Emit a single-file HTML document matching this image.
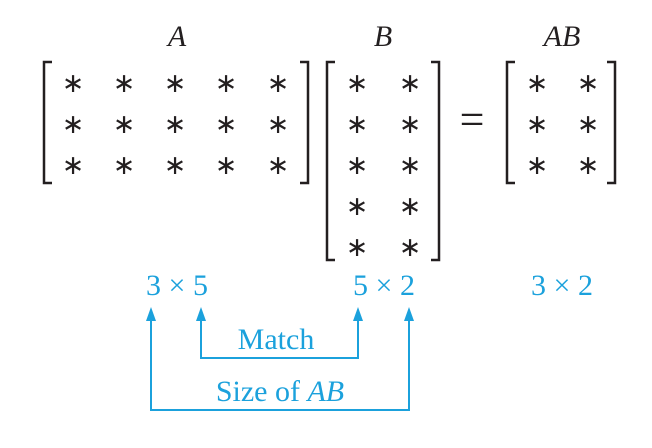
<!DOCTYPE html>
<html><head><meta charset="utf-8"><style>
html,body{margin:0;padding:0;background:#fff;}
svg{display:block;}
.st{font-family:"Liberation Serif",serif;font-size:27px;fill:#231f20;text-anchor:middle;}
.lb{font-family:"Liberation Serif",serif;font-style:italic;font-size:30px;fill:#231f20;text-anchor:middle;}
.bl{font-family:"Liberation Serif",serif;font-size:30px;fill:#1ba1dc;text-anchor:middle;}
</style></head><body>
<svg width="652" height="448" viewBox="0 0 652 448">
<g id="mats"></g>
<text x="472" y="134" font-family="Liberation Serif, serif" font-size="44" fill="#231f20" text-anchor="middle">=</text>
<text class="bl" x="177" y="295">3 × 5</text>
<text class="bl" x="384" y="295">5 × 2</text>
<text class="bl" x="562" y="295">3 × 2</text>
<g stroke="#1ba1dc" stroke-width="2" fill="none">
<polyline points="201,318 201,358 358,358 358,318"/>
</g>
<g stroke="#1ba1dc" stroke-width="2" fill="none">
<polyline points="151,318 151,410 409,410 409,318"/>
</g>
<g fill="#1ba1dc">
<polygon points="201,307 196,321 206,321"/>
<polygon points="358,307 353,321 363,321"/>
<polygon points="151,307 146,321 156,321"/>
<polygon points="409,307 404,321 414,321"/>
</g>
<text class="bl" x="276" y="349">Match</text>
<text class="bl" x="280" y="401">Size of <tspan font-style="italic">AB</tspan></text>
</svg>
<script>
const mats=[
 {name:'A',label:'A',lx:44,rx:308,top:62,bot:183,cols:[73,124,175,226,278],rows:[80,121,162],labelX:177},
 {name:'B',label:'B',lx:327,rx:439,top:62,bot:260,cols:[357,410],rows:[80,121,162,203,244],labelX:383},
 {name:'AB',label:'AB',lx:507,rx:615,top:62,bot:183,cols:[537,588],rows:[80,121,162],labelX:562}
];
const g=document.getElementById('mats');
const NS='http://www.w3.org/2000/svg';
mats.forEach(m=>{
  const grp=document.createElementNS(NS,'g');
  
  
  const t=document.createElementNS(NS,'text');
  t.setAttribute('class','lb');t.setAttribute('x',m.labelX);t.setAttribute('y',46);
  t.textContent=m.label;
  
  
  grp.appendChild(t);
  const w=8;
  [[m.lx,1],[m.rx,-1]].forEach(([x,d])=>{
    const p=document.createElementNS(NS,'polyline');
    p.setAttribute('points',`${x+d*w},${m.top} ${x},${m.top} ${x},${m.bot} ${x+d*w},${m.bot}`);
    p.setAttribute('fill','none');p.setAttribute('stroke','#231f20');p.setAttribute('stroke-width','2.5');
    
    
    grp.appendChild(p);
  });
  m.rows.forEach(y=>m.cols.forEach(x=>{
    const s=document.createElementNS(NS,'text');
    s.setAttribute('class','st');s.setAttribute('x',x);s.setAttribute('y',y+12);
    s.textContent='∗';
    
    
    grp.appendChild(s);
  }));
  g.appendChild(grp);
});
</script>
</body></html>
